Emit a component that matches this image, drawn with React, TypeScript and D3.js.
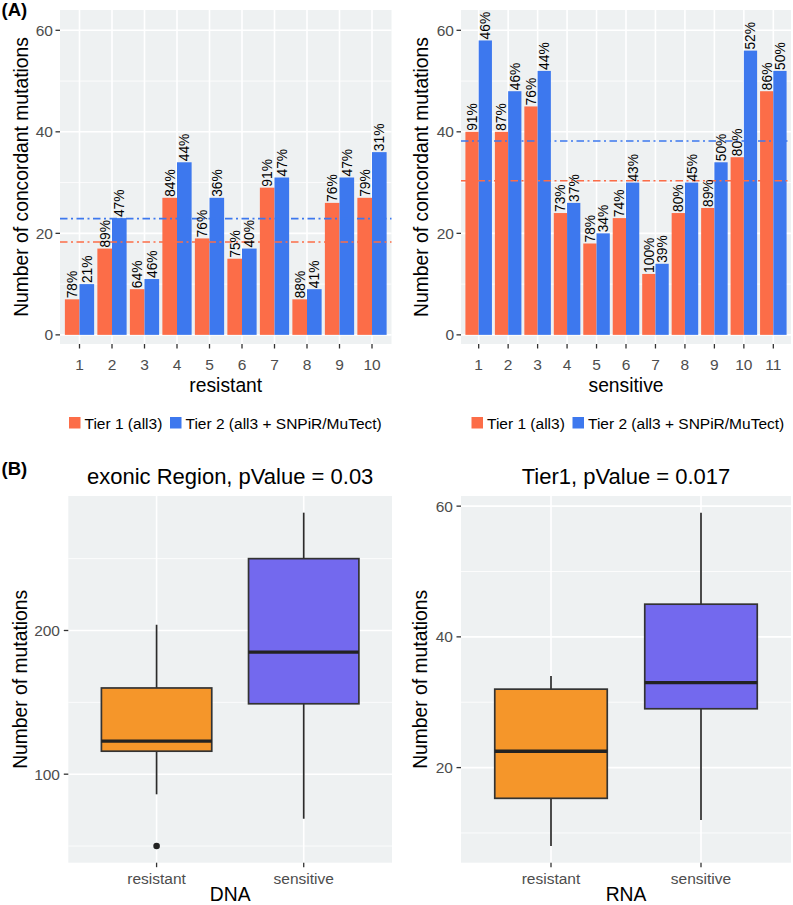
import React from 'react';
import * as d3 from 'd3';

// ---------- DATA ----------
const resistantCats = ['1', '2', '3', '4', '5', '6', '7', '8', '9', '10'];
const resistantTier1 = [7, 17, 9, 27, 19, 15, 29, 7, 26, 27];
const resistantTier2 = [10, 23, 11, 34, 27, 17, 31, 9, 31, 36];
const resistantTier1Pct = ['78%', '89%', '64%', '84%', '76%', '75%', '91%', '88%', '76%', '79%'];
const resistantTier2Pct = ['21%', '47%', '46%', '44%', '36%', '40%', '47%', '41%', '47%', '31%'];

const sensitiveCats = ['1', '2', '3', '4', '5', '6', '7', '8', '9', '10', '11'];
const sensitiveTier1 = [40, 40, 45, 24, 18, 23, 12, 24, 25, 35, 48];
const sensitiveTier2 = [58, 48, 52, 26, 20, 30, 14, 30, 34, 56, 52];
const sensitiveTier1Pct = ['91%', '87%', '76%', '73%', '78%', '74%', '100%', '80%', '89%', '80%', '86%'];
const sensitiveTier2Pct = ['46%', '46%', '44%', '37%', '34%', '43%', '39%', '45%', '50%', '52%', '50%'];

const barYTicks = [0, 20, 40, 60];
const barYMinor = [10, 30, 50];
const legendLabels = ['Tier 1 (all3)', 'Tier 2 (all3 + SNPiR/MuTect)'];

const boxGroups = ['resistant', 'sensitive'];
const dnaLowerWhisker = [86, 69];
const dnaQ1 = [116, 149];
const dnaMedian = [123, 185];
const dnaQ3 = [160, 250];
const dnaUpperWhisker = [204, 282];
const dnaOutliers = [[50], []];
const dnaTicks = [100, 200];
const dnaMinor = [50, 150, 250];

const rnaLowerWhisker = [8, 12];
const rnaQ1 = [15.3, 29];
const rnaMedian = [22.5, 33];
const rnaQ3 = [32, 45];
const rnaUpperWhisker = [34, 59];
const rnaOutliers = [[], []];
const rnaTicks = [20, 40, 60];
const rnaMinor = [10, 30, 50];

// ---------- STYLE ----------
const FONT = "'Liberation Sans', Arial, Helvetica, sans-serif";
const C_T1 = '#FC6D48';
const C_T2 = '#3D78EE';
const C_BOX = ['#F5962A', '#7369EE'];
const PANEL_BG = '#EEF1F2';
const TICK_COL = '#4D4D4D';

type BarProps = {
  x0: number; x1: number; cats: string[]; t1: number[]; t2: number[];
  p1: string[]; p2: string[]; xTitle: string; yTitleX: number; legendX: number;
};

const BarPanel: React.FC<BarProps> = ({ x0, x1, cats, t1, t2, p1, p2, xTitle, yTitleX, legendX }) => {
  const top = 10, bottom = 344;
  const y = d3.scaleLinear().domain([-1.8, 64]).range([bottom, top]);
  const x = d3.scaleBand<string>().domain(cats).range([x0, x1]).paddingInner(0).paddingOuter(0.1);
  const step = x.step();
  const dodge = d3.scaleBand<string>().domain(['t1', 't2']).range([0, step * 0.9]);
  const bw = dodge.bandwidth();
  const cx = (c: string) => (x(c) as number) + x.bandwidth() / 2;
  const m1 = d3.mean(t1) as number;
  const m2 = d3.mean(t2) as number;
  const series = [
    { key: 't1', vals: t1, pct: p1, col: C_T1 },
    { key: 't2', vals: t2, pct: p2, col: C_T2 },
  ];
  return (
    <g>
      <rect x={x0} y={top} width={x1 - x0} height={bottom - top} fill={PANEL_BG} />
      {barYMinor.map(v => (
        <line key={'mn' + v} x1={x0} x2={x1} y1={y(v)} y2={y(v)} stroke="#fff" strokeWidth={0.8} />
      ))}
      {barYTicks.map(v => (
        <line key={'mj' + v} x1={x0} x2={x1} y1={y(v)} y2={y(v)} stroke="#fff" strokeWidth={1.6} />
      ))}
      {cats.map(c => (
        <line key={'vx' + c} x1={cx(c)} x2={cx(c)} y1={top} y2={bottom} stroke="#fff" strokeWidth={1.6} />
      ))}
      {series.map(s => s.vals.map((v, i) => {
        const c = cats[i];
        const bx = cx(c) - step * 0.45 + (dodge(s.key) as number);
        return <rect key={s.key + c} x={bx} y={y(v)} width={bw} height={y(0) - y(v)} fill={s.col} />;
      }))}
      <line x1={x0} x2={x1} y1={y(m2)} y2={y(m2)} stroke={C_T2} strokeWidth={1.6} strokeDasharray="7.5 3.5 2 3.5" />
      <line x1={x0} x2={x1} y1={y(m1)} y2={y(m1)} stroke={C_T1} strokeWidth={1.6} strokeDasharray="7.5 3.5 2 3.5" />
      {series.map(s => s.vals.map((v, i) => {
        const c = cats[i];
        const bcx = cx(c) - step * 0.45 + (dodge(s.key) as number) + bw / 2;
        const ty = y(v) - 1;
        return (
          <text key={'l' + s.key + c} x={bcx} y={ty} transform={`rotate(-90 ${bcx} ${ty})`}
            dy="0.36em" fontSize={13.8} fontFamily={FONT} fill="#000">{s.pct[i]}</text>
        );
      }))}
      {barYTicks.map(v => (
        <g key={'yt' + v}>
          <line x1={x0 - 4.5} x2={x0} y1={y(v)} y2={y(v)} stroke="#333" strokeWidth={1.3} />
          <text x={x0 - 7} y={y(v)} dy="0.36em" textAnchor="end" fontSize={15.5} fontFamily={FONT} fill={TICK_COL}>{v}</text>
        </g>
      ))}
      {cats.map(c => (
        <g key={'xt' + c}>
          <line x1={cx(c)} x2={cx(c)} y1={bottom} y2={bottom + 4.5} stroke="#333" strokeWidth={1.3} />
          <text x={cx(c)} y={370} textAnchor="middle" fontSize={15.5} fontFamily={FONT} fill={TICK_COL}>{c}</text>
        </g>
      ))}
      <text x={(x0 + x1) / 2} y={392} textAnchor="middle" fontSize={19.3} fontFamily={FONT} fill="#000">{xTitle}</text>
      <text x={yTitleX} y={(top + bottom) / 2} transform={`rotate(-90 ${yTitleX} ${(top + bottom) / 2})`}
        textAnchor="middle" fontSize={19.3} fontFamily={FONT} fill="#000">Number of concordant mutations</text>
      {/* legend */}
      <rect x={legendX} y={417} width={11.5} height={11.5} fill={C_T1} />
      <text x={legendX + 15.5} y={428.5} fontSize={15.5} fontFamily={FONT} fill="#000">{legendLabels[0]}</text>
      <rect x={legendX + 101} y={417} width={11.5} height={11.5} fill={C_T2} />
      <text x={legendX + 116.5} y={428.5} fontSize={15.5} fontFamily={FONT} fill="#000">{legendLabels[1]}</text>
    </g>
  );
};

type BoxProps = {
  x0: number; x1: number; domain: [number, number]; ticks: number[]; minor: number[];
  lw: number[]; q1: number[]; med: number[]; q3: number[]; uw: number[]; out: number[][];
  title: string; xTitle: string; yTitleX: number; tickRight: number;
};

const BoxPanel: React.FC<BoxProps> = ({ x0, x1, domain, ticks, minor, lw, q1, med, q3, uw, out, title, xTitle, yTitleX, tickRight }) => {
  const top = 496, bottom = 862.7;
  const y = d3.scaleLinear().domain(domain).range([bottom, top]);
  const x = d3.scaleBand<string>().domain(boxGroups).range([x0, x1]).paddingInner(0).paddingOuter(0.1);
  const step = x.step();
  const cx = (g: string) => (x(g) as number) + x.bandwidth() / 2;
  const bw = step * 0.75;
  return (
    <g>
      <text x={(x0 + x1) / 2} y={483.5} textAnchor="middle" fontSize={22} fontFamily={FONT} fill="#000">{title}</text>
      <rect x={x0} y={top} width={x1 - x0} height={bottom - top} fill={PANEL_BG} />
      {minor.map(v => (
        <line key={'mn' + v} x1={x0} x2={x1} y1={y(v)} y2={y(v)} stroke="#fff" strokeWidth={0.8} />
      ))}
      {ticks.map(v => (
        <line key={'mj' + v} x1={x0} x2={x1} y1={y(v)} y2={y(v)} stroke="#fff" strokeWidth={1.6} />
      ))}
      {boxGroups.map(g => (
        <line key={'vx' + g} x1={cx(g)} x2={cx(g)} y1={top} y2={bottom} stroke="#fff" strokeWidth={1.6} />
      ))}
      {boxGroups.map((g, i) => {
        const c = cx(g);
        return (
          <g key={'b' + g}>
            <line x1={c} x2={c} y1={y(uw[i])} y2={y(q3[i])} stroke="#2b2b2b" strokeWidth={1.7} />
            <line x1={c} x2={c} y1={y(q1[i])} y2={y(lw[i])} stroke="#2b2b2b" strokeWidth={1.7} />
            <rect x={c - bw / 2} y={y(q3[i])} width={bw} height={y(q1[i]) - y(q3[i])} fill={C_BOX[i]} stroke="#333" strokeWidth={1.7} />
            <line x1={c - bw / 2} x2={c + bw / 2} y1={y(med[i])} y2={y(med[i])} stroke="#222" strokeWidth={3.3} />
            {out[i].map((o, k) => (
              <circle key={k} cx={c} cy={y(o)} r={3.3} fill="#222" />
            ))}
          </g>
        );
      })}
      {ticks.map(v => (
        <g key={'yt' + v}>
          <line x1={x0 - 4.5} x2={x0} y1={y(v)} y2={y(v)} stroke="#333" strokeWidth={1.3} />
          <text x={tickRight} y={y(v)} dy="0.36em" textAnchor="end" fontSize={15.5} fontFamily={FONT} fill={TICK_COL}>{v}</text>
        </g>
      ))}
      {boxGroups.map(g => (
        <g key={'xt' + g}>
          <line x1={cx(g)} x2={cx(g)} y1={bottom} y2={bottom + 4.5} stroke="#333" strokeWidth={1.3} />
          <text x={cx(g)} y={883.5} textAnchor="middle" fontSize={15.5} fontFamily={FONT} fill={TICK_COL}>{g}</text>
        </g>
      ))}
      <text x={(x0 + x1) / 2} y={900.5} textAnchor="middle" fontSize={19.3} fontFamily={FONT} fill="#000">{xTitle}</text>
      <text x={yTitleX} y={(top + bottom) / 2} transform={`rotate(-90 ${yTitleX} ${(top + bottom) / 2})`}
        textAnchor="middle" fontSize={19.3} fontFamily={FONT} fill="#000">Number of mutations</text>
    </g>
  );
};

export default function App() {
  return (
    <svg width={793} height={905} viewBox="0 0 793 905"
      style={{ position: 'absolute', left: 0, top: 0, background: '#fff', display: 'block' }}>
      <rect x={0} y={0} width={793} height={905} fill="#fff" />
      <text x={1.5} y={15.5} fontSize={18.5} fontWeight="bold" fontFamily={FONT} fill="#000">(A)</text>
      <BarPanel x0={60} x1={391.5} cats={resistantCats} t1={resistantTier1} t2={resistantTier2}
        p1={resistantTier1Pct} p2={resistantTier2Pct} xTitle="resistant" yTitleX={28} legendX={69} />
      <BarPanel x0={461} x1={791} cats={sensitiveCats} t1={sensitiveTier1} t2={sensitiveTier2}
        p1={sensitiveTier1Pct} p2={sensitiveTier2Pct} xTitle="sensitive" yTitleX={428} legendX={471.5} />
      <text x={1.5} y={475} fontSize={18.5} fontWeight="bold" fontFamily={FONT} fill="#000">(B)</text>
      <BoxPanel x0={68.3} x1={392} domain={[38.4, 293.6]} ticks={dnaTicks} minor={dnaMinor}
        lw={dnaLowerWhisker} q1={dnaQ1} med={dnaMedian} q3={dnaQ3} uw={dnaUpperWhisker} out={dnaOutliers}
        title="exonic Region, pValue = 0.03" xTitle="DNA" yTitleX={27} tickRight={60} />
      <BoxPanel x0={461} x1={791} domain={[5.45, 61.55]} ticks={rnaTicks} minor={rnaMinor}
        lw={rnaLowerWhisker} q1={rnaQ1} med={rnaMedian} q3={rnaQ3} uw={rnaUpperWhisker} out={rnaOutliers}
        title="Tier1, pValue = 0.017" xTitle="RNA" yTitleX={427} tickRight={453} />
    </svg>
  );
}
